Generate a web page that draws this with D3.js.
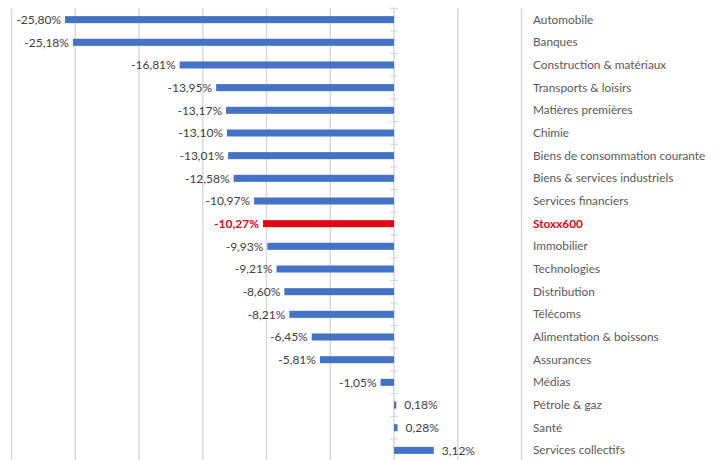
<!DOCTYPE html>
<html>
<head>
<meta charset="utf-8">
<script src="https://cdn.jsdelivr.net/npm/d3@7"></script>
<style>
  body { margin: 0; background: #fff; }
</style>
</head>
<body>
<div id="chart"></div>
<script>
// Secteurs et performances (%)
const secteurs = [
    "Automobile", "Banques", "Construction & matériaux", "Transports & loisirs",
    "Matières premières", "Chimie", "Biens de consommation courante",
    "Biens & services industriels", "Services financiers", "Stoxx600",
    "Immobilier", "Technologies", "Distribution", "Télécoms",
    "Alimentation & boissons", "Assurances", "Médias", "Pétrole & gaz",
    "Santé", "Services collectifs"
];
const valeurs = [
    -25.80, -25.18, -16.81, -13.95, -13.17, -13.10, -13.01, -12.58, -10.97, -10.27,
    -9.93, -9.21, -8.60, -8.21, -6.45, -5.81, -1.05, 0.18, 0.28, 3.12
];
const grilleTicks = [-30, -25, -20, -15, -10, -5, 0, 5, 10];
const indice = "Stoxx600";

const width = 717, height = 460;
const data = secteurs.map((s, i) => ({ secteur: s, valeur: valeurs[i] }));

const svg = d3.select("#chart").append("svg")
    .attr("width", width)
    .attr("height", height)
    .style("font-family", "Lato, 'Open Sans', sans-serif");

const x = d3.scaleLinear().domain([-30, 10]).range([11.5, 521.5]);
const y = d3.scaleBand().domain(secteurs).range([8.3, 461.7]).paddingInner(0.69).paddingOuter(0.345);
const yStep = y.step();

// Lignes de grille verticales
svg.append("g")
    .selectAll("line")
    .data(grilleTicks)
    .join("line")
    .attr("x1", d => x(d)).attr("x2", d => x(d))
    .attr("y1", 8.3).attr("y2", height)
    .attr("stroke", "#d9d9d9")
    .attr("stroke-width", 1.5);

// Axe des catégories (à 0) avec petites graduations
svg.append("g")
    .selectAll("line")
    .data(d3.range(secteurs.length + 1))
    .join("line")
    .attr("x1", x(0) - 4).attr("x2", x(0) + 4)
    .attr("y1", i => 8.3 + i * yStep).attr("y2", i => 8.3 + i * yStep)
    .attr("stroke", "#d9d9d9")
    .attr("stroke-width", 1.2);

// Barres
svg.append("g")
    .selectAll("rect")
    .data(data)
    .join("rect")
    .attr("x", d => x(Math.min(0, d.valeur)))
    .attr("width", d => Math.abs(x(d.valeur) - x(0)))
    .attr("y", d => y(d.secteur))
    .attr("height", y.bandwidth())
    .attr("fill", d => d.secteur === indice ? "#e30613" : "#4472c4");

// Étiquettes de valeur
const fmt = v => v.toFixed(2).replace(".", ",") + "%";
svg.append("g")
    .selectAll("text")
    .data(data)
    .join("text")
    .attr("x", d => d.valeur < 0 ? x(d.valeur) - 4 : x(d.valeur) + 8)
    .attr("y", d => y(d.secteur) + y.bandwidth() / 2)
    .attr("dy", "0.35em")
    .attr("text-anchor", d => d.valeur < 0 ? "end" : "start")
    .style("font-size", "12px")
    .style("font-weight", d => d.secteur === indice ? "bold" : "normal")
    .attr("fill", d => d.secteur === indice ? "#e30613" : "#404040")
    .text(d => fmt(d.valeur));

// Libellés des secteurs à droite
svg.append("g")
    .selectAll("text")
    .data(data)
    .join("text")
    .attr("x", 533)
    .attr("y", d => y(d.secteur) + y.bandwidth() / 2)
    .attr("dy", "0.35em")
    .style("font-size", "11.8px")
    .style("font-weight", d => d.secteur === indice ? "bold" : "normal")
    .attr("fill", d => d.secteur === indice ? "#e30613" : "#595959")
    .text(d => d.secteur);
</script>
</body>
</html>
